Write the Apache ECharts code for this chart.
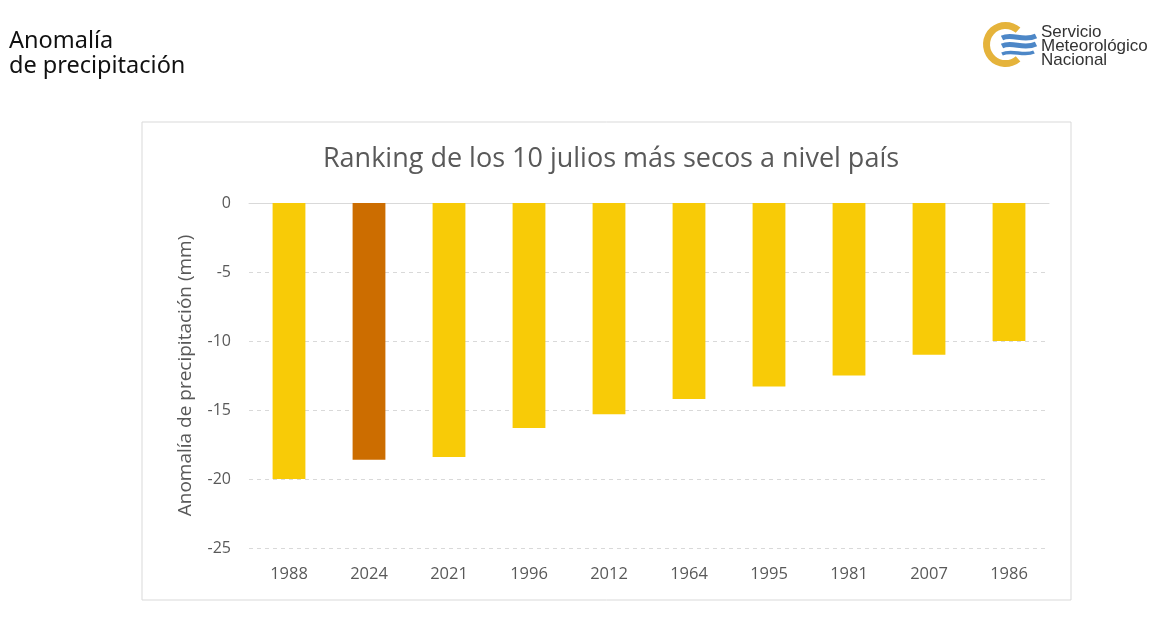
<!DOCTYPE html>
<html>
<head>
<meta charset="utf-8">
<script src="https://cdn.jsdelivr.net/npm/echarts@6/dist/echarts.min.js"></script>
<style>
html,body{margin:0;padding:0;background:#fff;}
#main{width:1161px;height:625px;}
</style>
</head>
<body>
<div id="main"></div>
<script>
var years = ['1988','2024','2021','1996','2012','1964','1995','1981','2007','1986'];
var anomalies = [-20.0, -18.6, -18.4, -16.3, -15.3, -14.2, -13.3, -12.5, -11.0, -10.0];
var highlightYear = '2024';
var yTicks = [-25, -20, -15, -10, -5, 0];

var yellow = '#F8CB07';
var orange = '#CC6D00';
var chartFont = 'Open Sans';

var barData = years.map(function (y, i) {
  return { value: anomalies[i], itemStyle: { color: y === highlightYear ? orange : yellow } };
});

var chart = echarts.init(document.getElementById('main'), null, { renderer: 'canvas' });
chart.setOption({
  backgroundColor: '#ffffff',
  animation: false,
  title: {
    text: 'Ranking de los 10 julios más secos a nivel país',
    left: 606, top: 141, textAlign: 'center',
    textStyle: { fontFamily: chartFont, fontSize: 27, fontWeight: 'normal', color: '#595959' }
  },
  grid: { left: 249, right: 112, top: 203, bottom: 77, containLabel: false },
  xAxis: [{
    type: 'category', data: years, position: 'bottom',
    axisLine: { show: false }, axisTick: { show: false },
    axisLabel: { fontFamily: chartFont, fontSize: 16.5, color: '#595959', margin: 18 }
  }, {
    type: 'category', data: years, position: 'top',
    axisLine: { show: true, lineStyle: { color: '#d9d9d9', width: 1 } },
    axisTick: { show: false }, axisLabel: { show: false }
  }],
  yAxis: {
    type: 'value', min: yTicks[0], max: yTicks[yTicks.length - 1], interval: 5,
    name: 'Anomalía de precipitación (mm)', nameLocation: 'middle', nameGap: 54,
    nameTextStyle: { fontFamily: chartFont, fontSize: 19, color: '#595959' },
    axisLine: { show: false }, axisTick: { show: false },
    axisLabel: { fontFamily: chartFont, fontSize: 16, color: '#595959', margin: 18 },
    splitLine: { show: true, lineStyle: { color: '#d9d9d9', type: [4, 4], width: 1 } }
  },
  series: [{
    type: 'bar', data: barData, barWidth: '41%', xAxisIndex: 0
  }],
  graphic: [
    { type: 'rect', shape: { x: 142, y: 122, width: 929, height: 478 }, style: { fill: 'none', stroke: '#d9d9d9', lineWidth: 1 }, z: -1 },
    { type: 'text', left: 9, top: 29, style: { text: 'Anomalía', font: '23.5px "Noto Sans"', fill: '#111' } },
    { type: 'text', left: 9, top: 54, style: { text: 'de precipitación', font: '23.5px "Noto Sans"', fill: '#111' } },
    { type: 'sector', shape: { cx: 1005.5, cy: 44.5, r0: 15.5, r: 22.5, startAngle: Math.PI * 0.27, endAngle: Math.PI * 1.73, clockwise: true }, style: { fill: '#E5B33B' } },
    { type: 'bezierCurve', shape: { x1: 1002, y1: 38, cpx1: 1012, cpy1: 33, cpx2: 1024, cpy2: 42, x2: 1036, y2: 36 }, style: { stroke: '#4D87C7', lineWidth: 5, fill: 'none' } },
    { type: 'bezierCurve', shape: { x1: 1002, y1: 46, cpx1: 1012, cpy1: 41, cpx2: 1024, cpy2: 50, x2: 1036, y2: 44 }, style: { stroke: '#4D87C7', lineWidth: 5, fill: 'none' } },
    { type: 'bezierCurve', shape: { x1: 1002, y1: 54, cpx1: 1012, cpy1: 49, cpx2: 1024, cpy2: 57, x2: 1034, y2: 52 }, style: { stroke: '#4D87C7', lineWidth: 3.5, fill: 'none' } },
    { type: 'text', left: 1041, top: 24, style: { text: 'Servicio', font: '17px "Liberation Sans"', fill: '#333' } },
    { type: 'text', left: 1041, top: 38, style: { text: 'Meteorológico', font: '17px "Liberation Sans"', fill: '#333' } },
    { type: 'text', left: 1041, top: 52, style: { text: 'Nacional', font: '17px "Liberation Sans"', fill: '#333' } }
  ]
});
</script>
</body>
</html>
